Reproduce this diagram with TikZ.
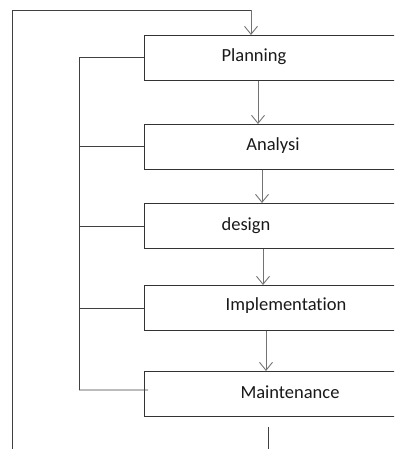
\documentclass[tikz,border=0pt]{standalone}
\usepackage{fontspec}
\setmainfont[Ligatures={NoCommon,NoContextual}]{Carlito}
\usetikzlibrary{arrows.meta,calc}
\begin{document}
\begin{tikzpicture}[x=1pt,y=-1pt,
  box/.style={draw=black!80, line width=0.9pt, rectangle, minimum width=280pt, minimum height=45pt, anchor=north west, inner sep=0pt},
  lbl/.style={font=\fontsize{18.5}{20}\selectfont, text=black!90, inner sep=0pt, anchor=base},
  line/.style={draw=black!75, line width=0.9pt},
  flow/.style={draw=black!55, line width=0.9pt, -{Straight Barb[length=8pt,width=13pt,line width=0.9pt]}}]
\useasboundingbox (0,0) rectangle (394,449);
\clip (0,0) rectangle (394,449);
% boxes
\node[box] (P) at (144,35) {};
\node[box] (A) at (144,124) {};
\node[box] (D) at (144,203) {};
\node[box] (I) at (144,285) {};
\node[box] (M) at (144,371) {};
% labels
\node[lbl] (tP) at (254,62) {Planning};
\node[lbl] (tA) at (273,151) {Analysi};
\node[lbl] (tD) at (246,230) {design};
\node[lbl] (tI) at (286,310) {Implementation};
\node[lbl] (tM) at (290,398) {Maintenance};
% outer loop
\coordinate (bl) at (12,460);
\coordinate (tr) at (251,10);
\coordinate (bot) at (268,427);
\coordinate (botend) at (268,460);
\draw[line] (bl) |- (tr);
\draw[flow] (tr) -- (tr |- P.north);
\draw[line] (bot) -- (botend);
% flow arrows
\coordinate (x1) at (258,0);
\coordinate (x2) at (262,0);
\coordinate (x3) at (263,0);
\coordinate (x4) at (266,0);
\draw[flow] (x1 |- P.south) -- (x1 |- A.north);
\draw[flow] (x2 |- A.south) -- (x2 |- D.north);
\draw[flow] (x3 |- D.south) -- (x3 |- I.north);
\draw[flow] (x4 |- I.south) -- (x4 |- M.north);
% left bus
\coordinate (bt) at (79,57);
\coordinate (bb) at (79,390);
\draw[line] (P.west) -- (P.west -| bt) -- (bb);
\draw[line] (A.west) -- (A.west -| bt);
\draw[line] (D.west) -- (D.west -| bt);
\draw[line] (I.west) -- (I.west -| bt);
\draw[line] (bb) -- ($(M.west)+(4,-4)$);
\end{tikzpicture}
\end{document}
